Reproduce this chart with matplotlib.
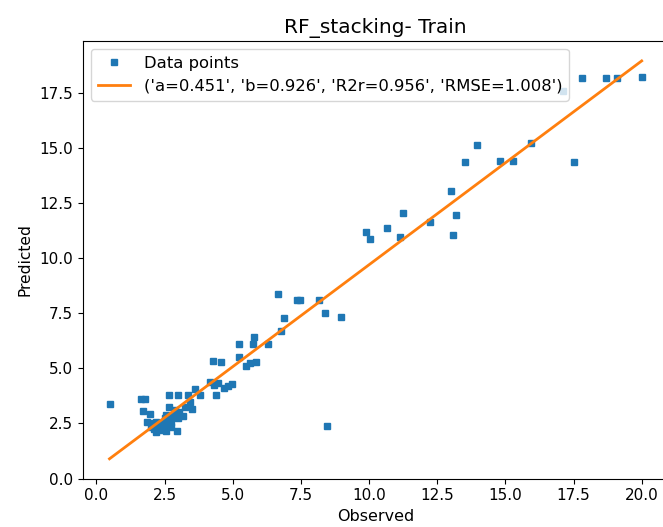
import numpy as np
import matplotlib
matplotlib.use("Agg")
import matplotlib.pyplot as plt

plt.rcParams['savefig.bbox'] = None

observed = [
    17.82, 18.69, 19.08, 20.00, 17.10,
    13.96, 13.52, 14.81, 15.27, 15.94, 17.51,
    13.02, 13.18, 13.07, 12.22, 11.25, 10.64, 11.13, 9.87, 10.02,
    6.67, 7.36, 7.46, 8.18, 8.38, 8.97, 6.89, 6.77, 5.78,
    8.45,
    5.23, 5.76, 6.28, 5.22, 4.27, 4.58, 5.50, 5.64, 5.84,
    4.17, 4.30, 4.45, 4.69, 4.82, 4.96, 3.62, 3.36, 3.81, 4.40,
    0.48, 1.65, 1.77, 1.70, 1.98, 2.65, 2.99,
    3.50, 3.16, 2.95, 2.68, 3.25, 3.42, 2.88,
    1.87, 2.02, 2.20, 2.20, 2.38, 2.50, 2.62, 2.75, 2.81, 2.56, 2.36, 3.00,
    2.12, 2.27, 2.47, 2.67, 2.42, 2.72, 2.07, 2.57, 2.87, 3.03,
]
predicted = [
    18.18, 18.20, 18.20, 18.23, 17.62,
    15.15, 14.40, 14.42, 14.43, 15.22, 14.40,
    13.08, 11.97, 11.06, 11.64, 12.06, 11.37, 10.96, 11.20, 10.88,
    8.36, 8.12, 8.09, 8.09, 7.54, 7.33, 7.27, 6.72, 6.42,
    2.39,
    6.10, 6.10, 6.10, 5.52, 5.36, 5.30, 5.13, 5.25, 5.30,
    4.40, 4.26, 4.34, 4.11, 4.22, 4.29, 4.08, 3.81, 3.81, 3.81,
    3.40, 3.61, 3.61, 3.05, 2.94, 3.81, 3.81,
    3.16, 2.86, 2.18, 3.25, 3.27, 3.46, 3.12,
    2.59, 2.36, 2.59, 2.11, 2.29, 2.75, 2.44, 2.59, 2.82, 2.14, 2.52, 2.75,
    2.25, 2.40, 2.55, 2.70, 2.20, 2.35, 2.50, 2.90, 2.95, 3.00,
]
fit_a = 0.451
fit_b = 0.926
r2r = 0.956
rmse = 1.008
title = "RF_stacking- Train"

x = np.array(observed)
y = np.array(predicted)

W, H = 663, 527
fig = plt.figure(figsize=(W / 100, H / 100), dpi=100)
ax = fig.add_axes([82.9 / W, 1 - 478.7 / H, 585.4 / W, 437.7 / H])

ax.plot(x, y, 's', color='#1f77b4', markersize=5, label='Data points')
xs = np.array([x.min(), x.max()])
label = str(('a=%.3f' % fit_a, 'b=%.3f' % fit_b, 'R2r=%.3f' % r2r, 'RMSE=%.3f' % rmse))
ax.plot(xs, fit_a + fit_b * xs, '-', color='#ff7f0e', linewidth=2, label=label)

ax.spines['right'].set_visible(False)
ax.set_xlabel('Observed', fontsize=11.5)
ax.set_ylabel('Predicted', fontsize=11.2, labelpad=5)
ax.set_title(title, fontsize=14.5)
ax.tick_params(labelsize=11)
ax.legend(loc='upper left', fontsize=11.8)

fig.savefig('out.png', dpi=100, bbox_inches=None)
